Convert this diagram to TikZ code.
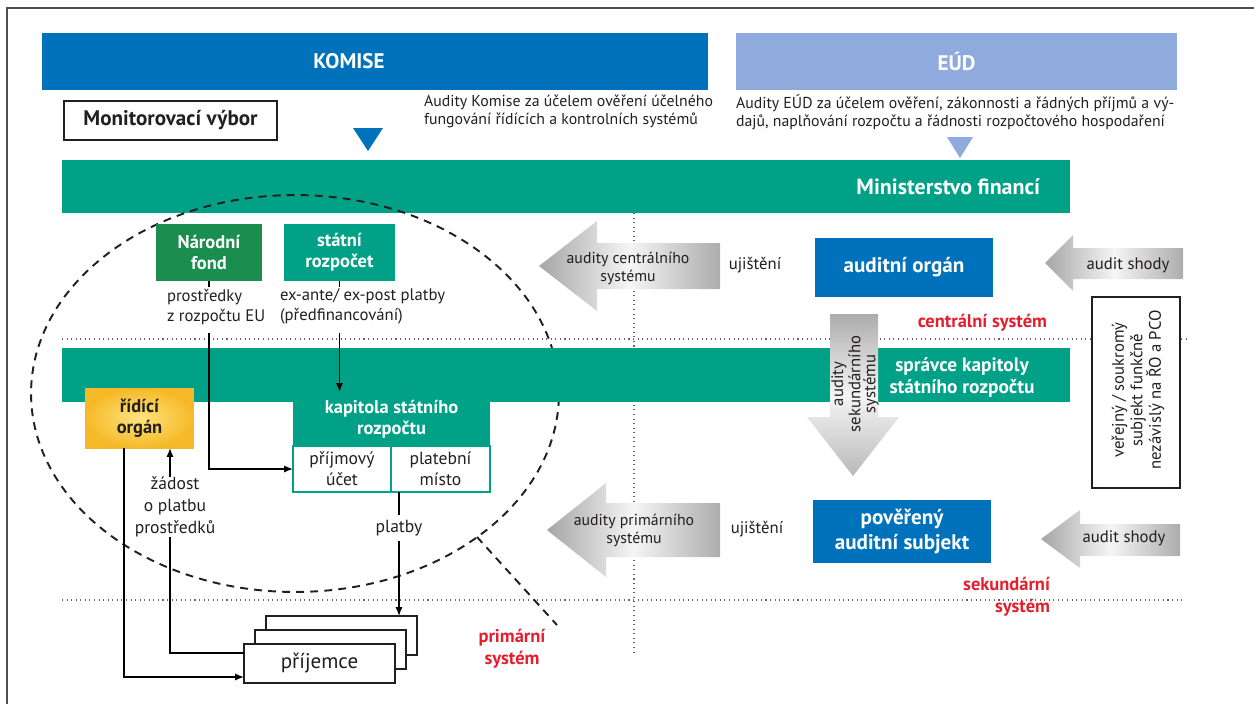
\documentclass[tikz,border=0pt]{standalone}
\usepackage{fontspec}
\setmainfont{PT Sans}
\usetikzlibrary{arrows.meta}
\definecolor{komiseblue}{RGB}{0,114,187}
\definecolor{eudblue}{RGB}{143,170,220}
\definecolor{mfteal}{RGB}{0,161,134}
\definecolor{fondgreen}{RGB}{26,142,78}
\definecolor{sysred}{RGB}{228,30,45}
\definecolor{ink}{RGB}{35,31,32}
\definecolor{rogold}{RGB}{246,185,40}
\definecolor{rolight}{RGB}{253,228,125}
\begin{document}
\begin{tikzpicture}[x=0.02cm,y=-0.02cm,inner sep=0pt,outer sep=0pt,line width=0.8pt,
>={Latex[length=5pt,width=4pt]},
txt/.style={text=ink,align=center,font=\fontsize{9}{10.3}\selectfont},
bar/.style={rectangle,text=white,font=\fontsize{12}{14}\selectfont\bfseries},
blk/.style={rectangle,text=white,align=center,font=\fontsize{10.5}{12}\selectfont\bfseries},
subbox/.style={rectangle,draw=mfteal,fill=white,text=ink,align=center,minimum height=0.92cm,font=\fontsize{10}{12}\selectfont},
aud/.style={rectangle,fill=komiseblue,text=white,align=center,minimum width=3.58cm,font=\fontsize{12}{14.5}\selectfont\bfseries},
recbox/.style={rectangle,draw=ink,fill=white,minimum width=3.02cm,minimum height=0.78cm,font=\fontsize{12}{14}\selectfont,text=ink},
sysname/.style={text=sysred,font=\fontsize{10.5}{12.5}\selectfont\bfseries},
dotline/.style={dotted,line width=0.6pt,ink!70},
grayarrow/.style={left color=gray!70,right color=gray!65,middle color=gray!8}]
\path[use as bounding box] (0,0) rectangle (1254,704);
\draw[line width=1.1pt,ink!80] (7,704) -- (7,8) -- (1254,8);
% system borders
\draw[dotline] (62,339) -- (1190,339);
\draw[dotline] (62,600) -- (1185,600);
\draw[dotline] (634,213) -- (634,652);
% top level
\draw (375,61) node[bar,fill=komiseblue,minimum width=13.32cm,minimum height=1.14cm] (komise) {};
\draw (349,61) node[bar] (komisetext) {KOMISE};
\draw (956.5,61) node[bar,fill=eudblue,minimum width=8.82cm,minimum height=1.14cm] (eud) {EÚD};
\draw (170.5,120.5) node[draw=ink,line width=1.2pt,minimum width=4.26cm,minimum height=0.78cm,text=ink,font=\fontsize{12}{14}\selectfont\bfseries] (monitor) {Monitorovací výbor};
\draw (424,95) node[txt,anchor=north west,align=left] (komaudit) {Audity Komise za účelem ověření účelného\\fungování řídících a kontrolních systémů};
\draw (736,95) node[txt,anchor=north west,align=left] (eudaudit) {Audity EÚD za účelem ověření, zákonnosti a řádných příjmů a vý-\\dajů, naplňování rozpočtu a řádnosti rozpočtového hospodaření};
\fill[komiseblue] (353,128) -- (383,128) -- (368,151) -- cycle;
\fill[eudblue] (947,137) -- (973,137) -- (960,158) -- cycle;
\draw (566,186.5) node[bar,fill=mfteal,minimum width=20.16cm,minimum height=1.06cm] (mf) {};
\draw (1040,187) node[bar,anchor=east,font=\fontsize{12.5}{14}\selectfont\bfseries] (mftext) {Ministerstvo financí};
% primary system
\draw[dash pattern=on 4.5pt off 3.5pt,line width=1.1pt,ink] (295,393.5) ellipse [x radius=5.28cm,y radius=3.97cm];
\draw[dash pattern=on 4.5pt off 3.5pt,line width=1.1pt,ink] (477,537) -- (557,625);
\draw (566,375) node[bar,fill=mfteal,minimum width=20.16cm,minimum height=1.08cm] (spravce) {};
\draw (962,377) node[blk,font=\fontsize{11}{12.5}\selectfont\bfseries] (spravcetext) {správce kapitoly\\státního rozpočtu};
\draw (209,252.5) node[blk,fill=fondgreen,minimum width=2.12cm,minimum height=1.14cm] (fond) {Národní\\fond};
\draw (339.5,252.5) node[blk,fill=mfteal,minimum width=2.22cm,minimum height=1.14cm] (rozpocet) {státní\\rozpočet};
\draw (391.5,419) node[blk,fill=mfteal,minimum width=3.94cm,minimum height=1.08cm] (kapitola) {kapitola státního\\rozpočtu};
\draw (342,469) node[subbox,minimum width=1.96cm] (prijmovy) {příjmový\\účet};
\draw (440.5,469) node[subbox,minimum width=1.98cm] (platebni) {platební\\místo};
\draw (139.5,418) node[rectangle,inner color=rolight,outer color=rogold,minimum width=2.18cm,minimum height=1.2cm,align=center,text=ink,font=\fontsize{10.5}{12}\selectfont\bfseries] (ro) {řídící\\orgán};
\draw (167,289) node[txt,anchor=north west,align=left,font=\fontsize{9.5}{11.4}\selectfont] (prostredky) {prostředky\\z rozpočtu EU};
\draw (280,289) node[txt,anchor=north west,align=left,font=\fontsize{9.5}{11.4}\selectfont] (exante) {ex-ante/ ex-post platby\\(předfinancování)};
\draw (fond.south) -- ++(0,6);
\draw (rozpocet.south) -- ++(0,6);
\path (fond.south) ++(0,52) coordinate (fondout);
\path (rozpocet.south) ++(0,52) coordinate (rozpout);
\draw[->] (fondout) |- (prijmovy.west);
\draw[->] (rozpout) -- (rozpout |- kapitola.north);
% recipients
\foreach \i in {2,1}
  \draw ({319.5+11*\i},{663.5-14*\i}) node[recbox] (prijemce\i) {};
\draw (319.5,663.5) node[recbox] (prijemce) {příjemce};
\coordinate (zadtop) at ([xshift=0.61cm]ro.south);
\draw (175,507) node[txt,font=\fontsize{10}{12.5}\selectfont] (zadost) {žádost\\o platbu\\prostředků};
\draw[->] (zadost.north -| zadtop) -- (zadtop);
\draw (zadost.south -| zadtop) |- ([yshift=0.21cm]prijemce.west);
\draw[->] ([xshift=-0.31cm]ro.south) |- ([yshift=-0.27cm]prijemce.west);
\draw (399,528) node[txt,inner sep=3pt,font=\fontsize{10}{12}\selectfont] (platby) {platby};
\draw (platebni.south -| platby) -- (platby);
\draw[->] (platby) -- (prijemce2.north -| platby);
\draw (512,649) node[sysname,align=center] (primarni) {primární\\systém};
% audits
\shade[grayarrow] (539,266) -- (597,221) -- (597,243) -- (720,243) -- (720,289) -- (597,289) -- (597,311) -- cycle;
\draw (628,268) node[txt] (audcentral) {audity centrálního\\systému};
\shade[grayarrow] (547,530) -- (606,483) -- (606,503) -- (720,503) -- (720,557) -- (606,557) -- (606,577) -- cycle;
\draw (634,530) node[txt] (audprimar) {audity primárního\\systému};
\draw (755,265) node[txt,font=\fontsize{9.5}{11}\selectfont] (ujisteni1) {ujištění};
\draw (757,529) node[txt,font=\fontsize{9.5}{11}\selectfont] (ujisteni2) {ujištění};
\draw (904,267.5) node[aud,minimum height=1.18cm] (auditorgan) {auditní orgán};
\draw (902,531.5) node[aud,minimum height=1.26cm] (poverny) {pověřený\\auditní subjekt};
\shade[grayarrow] (1045,263) -- (1073,235) -- (1073,248) -- (1183,248) -- (1183,279) -- (1073,279) -- (1073,291) -- cycle;
\draw (1128,265) node[txt,font=\fontsize{9.5}{11}\selectfont] (shody1) {audit shody};
\shade[grayarrow] (1041,539) -- (1080,510) -- (1080,524) -- (1180,524) -- (1180,556) -- (1080,556) -- (1080,568) -- cycle;
\draw (1124,538) node[txt,font=\fontsize{9.5}{11}\selectfont] (shody2) {audit shody};
\shade[top color=gray!65,bottom color=gray!55,middle color=gray!8] (830,314) -- (878,314) -- (878,417) -- (899,417) -- (853,476) -- (807,417) -- (830,417) -- cycle;
\draw (855,384) node[txt,rotate=90,font=\fontsize{9.5}{8.6}\selectfont] (audsek) {audity\\sekundárního\\systému};
\draw (1136,392.5) node[draw=ink,fill=white,line width=1.2pt,minimum width=1.76cm,minimum height=3.82cm] (verejny) {};
\draw (1138,390) node[txt,rotate=90,font=\fontsize{9.5}{10.5}\selectfont] (verejnytext) {veřejný / soukromý\\subjekt funkčně\\nezávislý na ŘO a PCO};
\draw (1047,323) node[sysname,anchor=east] (centralni) {centrální systém};
\draw (1050,597) node[sysname,anchor=east,align=right] (sekundarni) {sekundární\\systém};
\end{tikzpicture}
\end{document}
